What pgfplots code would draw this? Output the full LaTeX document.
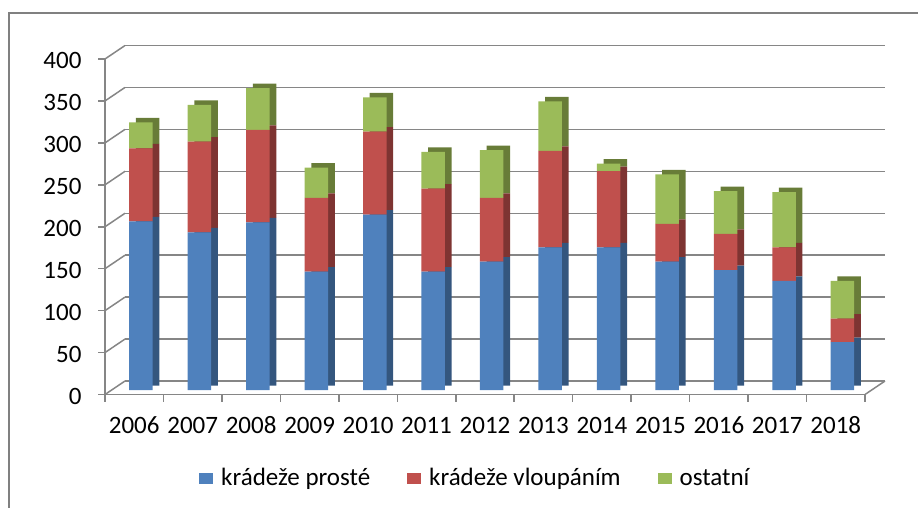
\documentclass[border=0pt]{standalone}
\usepackage{fontspec}
\setmainfont{Carlito}
\usepackage{pgfplots}
\usepackage{pgfplotstable}
\pgfplotsset{compat=1.18}
\definecolor{cblue}{RGB}{79,129,189}
\definecolor{cred}{RGB}{192,80,77}
\definecolor{cgreen}{RGB}{155,187,89}
\definecolor{cblueS}{RGB}{52,86,126}
\definecolor{credS}{RGB}{126,52,50}
\definecolor{cgreenS}{RGB}{104,124,56}
\definecolor{gridgray}{RGB}{134,134,134}
\definecolor{framegray}{RGB}{128,128,128}
\newcommand\bigfont{\fontsize{25}{30}\selectfont}

\pgfplotstableread{
x blue red green
0  201 87  31
1  188 108 44
2  200 110 50
3  141 88  36
4  209 99  41
5  141 99  44
6  153 76  57
7  170 115 59
8  170 91  9
9  153 45  59
10 143 43  51
11 130 40  66
12 57  28  45
}\datatable

\pgfplotsset{
  common/.style={
    anchor=south west, scale only axis, width=760pt, height=335.5pt,
    xmin=-0.5, xmax=12.5, ymin=0, ymax=400, clip=false,
  },
  barax/.style={common, hide axis, ybar stacked, bar width=23.5pt},
}

\begin{document}
\begin{tikzpicture}[x=1pt,y=1pt]
\draw[framegray, line width=1.6pt] (9,-20) -- (9,494) -- (940,494);

% back wall
\begin{axis}[common, at={(125pt,126pt)},
  ytick={0,50,...,400}, yticklabel=\empty, xtick=\empty,
  ymajorgrids, major grid style={gridgray, line width=1.5pt},
  axis line style={draw=none}, major tick length=0pt]
\end{axis}

% front plane
\begin{axis}[common, at={(105pt,112.5pt)},
  axis x line*=bottom, axis y line*=left,
  axis line style={gridgray, line width=1.5pt},
  tick style={gridgray, line width=1.5pt},
  tick align=outside, major tick length=7pt,
  ytick={0,50,...,400},
  yticklabel style={xshift=-13pt, yshift=-1.5pt, text height=16pt, text depth=0pt},
  xtick={-0.5,0.5,...,12.5}, xticklabels={},
  extra x ticks={0,1,2,3,4,5,6,7,8,9,10,11,12},
  extra x tick labels={2006,2007,2008,2009,2010,2011,2012,2013,2014,2015,2016,2017,2018},
  extra x tick style={major tick length=0pt,
    xticklabel style={yshift=-19pt, text height=16pt, text depth=0pt}},
  tick label style={font=\bigfont},
  /pgf/number format/assume math mode=true,
  legend columns=3,
  legend image code/.code={\fill[#1] (0pt,-5.5pt) rectangle (14pt,5.5pt);},
  legend style={at={(0.1237,-0.2489)}, anchor=west, draw=none, fill=none,
    inner sep=0pt, font=\bigfont,
    /tikz/every odd column/.append style={column sep=8pt},
    /tikz/every even column/.append style={column sep=37pt},
    nodes={inner sep=0pt}},
]
\pgfplotsinvokeforeach{0,50,100,150,200,250,300,350,400}{
  \draw[gridgray, line width=1.5pt] (axis cs:-0.5,#1) -- ++(20pt,13.5pt);
}
\draw[gridgray, line width=1.5pt] (axis cs:12.5,0) -- ++(20pt,13.5pt);
\addlegendimage{fill=cblue, draw=none}
\addlegendentry{krádeže prosté}
\addlegendimage{fill=cred, draw=none}
\addlegendentry{krádeže vloupáním}
\addlegendimage{fill=cgreen, draw=none}
\addlegendentry{ostatní}
\end{axis}

% bar depth (side and top faces)
\begin{axis}[barax, at={(118.4pt,121.5pt)}]
\addplot[fill=cblueS, draw=none] table[x=x, y=blue] {\datatable};
\addplot[fill=credS, draw=none] table[x=x, y=red] {\datatable};
\addplot[fill=cgreenS, draw=none] table[x=x, y=green] {\datatable};
\end{axis}

% bar front faces
\begin{axis}[barax, at={(111.7pt,117pt)}]
\addplot[fill=cblue, draw=none] table[x=x, y=blue] {\datatable};
\addplot[fill=cred, draw=none] table[x=x, y=red] {\datatable};
\addplot[fill=cgreen, draw=none] table[x=x, y=green] {\datatable};
\end{axis}

\pgfresetboundingbox
\useasboundingbox (0,0) rectangle (918,507);
\end{tikzpicture}
\end{document}
